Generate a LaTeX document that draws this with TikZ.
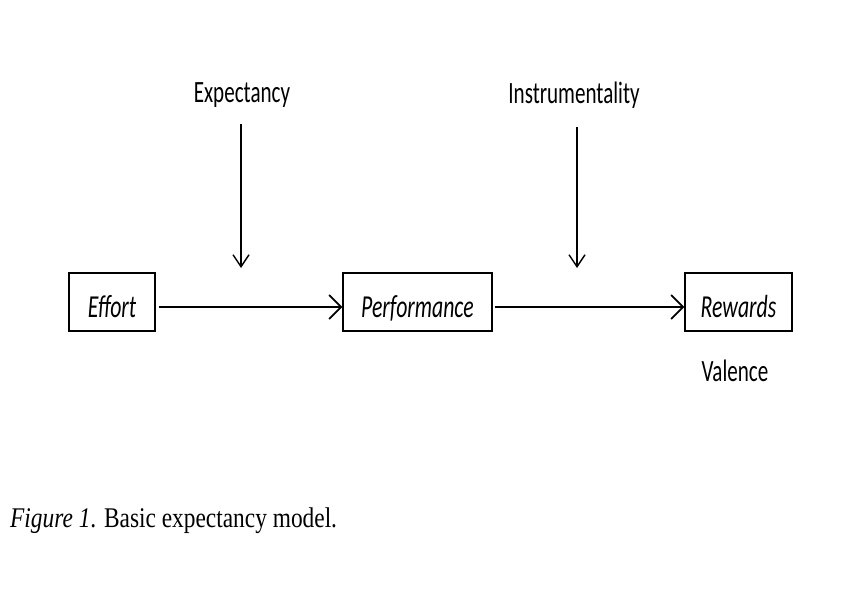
\documentclass[tikz,border=0pt]{standalone}
\usepackage{fontspec}
\usetikzlibrary{arrows.meta}
\newfontfamily\lblfont[FakeStretch=0.68]{Carlito}
\newfontfamily\capfont[FakeStretch=0.82]{Liberation Serif}

\tikzset{
  stage/.style={draw, line width=1.3pt, minimum height=58pt, inner sep=0pt,
    text height=30pt, text depth=0pt,
    font=\lblfont\fontsize{32}{32}\selectfont\itshape},
  factor/.style={inner sep=0pt, font=\lblfont\fontsize{31}{31}\selectfont},
  flow/.style={line width=1.7pt, -{Straight Barb[length=12pt,width=24pt,line width=1.7pt]}},
  push/.style={line width=1.4pt, -{Straight Barb[length=12pt,width=16pt,line width=1.4pt]}}
}

\begin{document}
\begin{tikzpicture}[x=1pt,y=-1pt]
  \useasboundingbox (0,0) rectangle (860,607);
  % the three stages
  \node[stage, minimum width=86pt] (effort) at (112,302) {Effort};
  \node[stage, minimum width=149pt] (performance) at (417.5,302) {Performance};
  \node[stage, minimum width=107pt] (rewards) at (738.5,302) {Rewards};
  % links between stages
  \draw[flow] ([yshift=-5pt]effort.east) ++(3pt,0) -- ([yshift=-5pt]performance.west);
  \draw[flow] ([yshift=-5pt]performance.east) ++(2pt,0) -- ([yshift=-5pt]rewards.west);
  % expectancy and instrumentality
  \node[factor] (expectancy) at (242,95) {Expectancy};
  \node[factor] (instrumentality) at (574,95) {Instrumentality};
  \coordinate (expend) at (241,268);
  \coordinate (insend) at (577,268);
  \draw[push] (expectancy.south -| expend) ++(0,16) -- (expend);
  \draw[push] (instrumentality.south -| insend) ++(0,19) -- (insend);
  \node[factor] (valence) at (735,371) {Valence};
  % caption
  \node[anchor=base west, inner sep=0pt, font=\capfont\fontsize{28.5}{28.5}\selectfont]
    (caption) at (10,527) {\textit{Figure 1}. Basic expectancy model.};
\end{tikzpicture}
\end{document}
